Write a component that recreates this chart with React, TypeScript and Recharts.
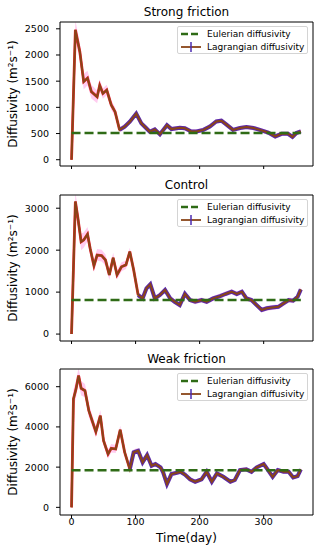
import React from "react"
import { Area, ComposedChart, Line, XAxis, YAxis } from "recharts"

// Strong friction
const sfDays = [0, 6, 13, 19, 25, 31, 40, 44, 49, 55, 62, 68, 75, 83, 91, 101, 109, 116, 122, 130, 138, 143, 149, 156, 169, 177, 187, 195, 206, 216, 226, 234, 242, 252, 263, 273, 284, 294, 307, 318, 328, 338, 345, 351, 358]
const sfVals = [0, 2480, 2060, 1490, 1560, 1300, 1200, 1420, 1265, 1330, 1045, 915, 570, 630, 725, 880, 695, 610, 535, 580, 485, 565, 660, 585, 610, 600, 540, 540, 570, 635, 730, 745, 670, 570, 605, 625, 605, 570, 520, 445, 495, 495, 435, 510, 540]
const sfErrs = [0, 180, 170, 150, 140, 130, 120, 110, 100, 100, 90, 80, 50, 50, 50, 50, 45, 40, 40, 40, 40, 40, 40, 40, 40, 40, 40, 40, 40, 40, 40, 40, 40, 40, 40, 40, 40, 40, 40, 40, 40, 40, 40, 40, 40]
const sfEulerian = 510

// Control
const ctDays = [0, 6, 10, 15, 19, 25, 29, 35, 40, 47, 53, 59, 65, 71, 78, 85, 91, 97, 104, 111, 117, 123, 130, 138, 146, 154, 161, 169, 177, 185, 193, 203, 211, 221, 232, 240, 250, 258, 266, 273, 281, 289, 297, 305, 313, 323, 331, 339, 346, 353, 358]
const ctVals = [0, 3160, 2760, 2200, 2240, 2380, 2045, 1630, 1885, 1870, 1765, 1410, 1820, 1410, 1605, 1650, 1965, 1530, 930, 850, 1090, 1185, 850, 930, 1050, 850, 770, 690, 960, 810, 770, 810, 770, 850, 905, 955, 1010, 955, 1010, 850, 810, 690, 575, 615, 635, 650, 730, 810, 795, 890, 1065]
const ctErrs = [0, 220, 210, 200, 180, 170, 160, 150, 140, 140, 130, 120, 120, 110, 110, 100, 90, 80, 70, 60, 60, 60, 60, 60, 60, 60, 60, 60, 60, 60, 60, 60, 60, 60, 60, 60, 60, 60, 60, 60, 60, 60, 60, 60, 60, 60, 60, 60, 60, 60, 60]
const ctEulerian = 815

// Weak friction
const wkDays = [0, 3, 7, 11, 15, 21, 27, 33, 38, 45, 50, 57, 62, 69, 76, 83, 91, 97, 104, 111, 118, 125, 131, 139, 143, 149, 156, 163, 170, 177, 185, 193, 203, 211, 219, 227, 237, 248, 255, 263, 273, 281, 289, 300, 306, 314, 322, 331, 339, 346, 353, 358]
const wkVals = [0, 5390, 5890, 6550, 5920, 5800, 4810, 4230, 3760, 4560, 3310, 2650, 2935, 2900, 3860, 2735, 1905, 2735, 2815, 2240, 2600, 2070, 2155, 1990, 1740, 1160, 1655, 1705, 1770, 1630, 1395, 1275, 1395, 1770, 1275, 1690, 1520, 1275, 1360, 1855, 1890, 1770, 1990, 2155, 1890, 1520, 1855, 1770, 1770, 1490, 1555, 1890]
const wkErrs = [0, 450, 420, 380, 360, 330, 310, 290, 270, 270, 250, 230, 210, 200, 200, 180, 160, 150, 140, 130, 120, 110, 100, 100, 100, 100, 100, 100, 100, 100, 100, 100, 100, 100, 100, 100, 100, 100, 100, 100, 100, 100, 100, 100, 100, 100, 100, 100, 100, 100, 100, 100]
const wkEulerian = 1840

const xTicks = [0, 100, 200, 300]
const sfTicks = [0, 500, 1000, 1500, 2000, 2500]
const ctTicks = [0, 1000, 2000, 3000]
const wkTicks = [0, 2000, 4000, 6000]

const FONT = "DejaVu Sans"
const BROWN = "#8a4418"
const GREEN = "#2f6b16"

const panels = [
  { title: "Strong friction", days: sfDays, vals: sfVals, errs: sfErrs, eul: sfEulerian, yDomain: [-120, 2630], yTicks: sfTicks, fringeFrom: 75, top: 0, height: 175, margin: { top: 21, right: 6, bottom: 8, left: 0 }, last: false },
  { title: "Control", days: ctDays, vals: ctVals, errs: ctErrs, eul: ctEulerian, yDomain: [-165, 3315], yTicks: ctTicks, fringeFrom: 104, top: 175, height: 175, margin: { top: 19, right: 6, bottom: 8, left: 0 }, last: false },
  { title: "Weak friction", days: wkDays, vals: wkVals, errs: wkErrs, eul: wkEulerian, yDomain: [-380, 6880], yTicks: wkTicks, fringeFrom: 91, top: 350, height: 200, margin: { top: 18, right: 6, bottom: 5, left: 0 }, last: true },
]

function YLabel({ viewBox }: any) {
  const cy = viewBox.y + viewBox.height / 2
  return (
    <text x={13} y={cy} transform={`rotate(-90, 13, ${cy})`} textAnchor="middle" dominantBaseline="central" fontSize={12} fontFamily={FONT} fill="#000">
      Diffusivity (m²s⁻¹)
    </text>
  )
}

function LegendBox({ top }: { top: number }) {
  return (
    <div style={{ position: "absolute", left: 177, top, width: 131, height: 28, border: "1px solid #d4d4d4", borderRadius: 2, background: "rgba(255,255,255,0.85)", boxSizing: "border-box", fontFamily: FONT, fontSize: 9 }}>
      <svg width={22} height={28} style={{ position: "absolute", left: 2, top: 0 }}>
        <line x1={1} y1={7} x2={21} y2={7} stroke={GREEN} strokeWidth={2.5} strokeDasharray="7 3" />
        <line x1={1} y1={20} x2={21} y2={20} stroke={BROWN} strokeWidth={1.8} />
        <line x1={11} y1={15} x2={11} y2={25} stroke="#4b2bb0" strokeWidth={1.5} />
      </svg>
      <div style={{ position: "absolute", left: 29, top: 1, lineHeight: "12px", whiteSpace: "nowrap" }}>Eulerian diffusivity</div>
      <div style={{ position: "absolute", left: 29, top: 14, lineHeight: "12px", whiteSpace: "nowrap" }}>Lagrangian diffusivity</div>
    </div>
  )
}

function Panel({ p }: { p: (typeof panels)[number] }) {
  const data = p.days.map((d, i) => ({
    day: d,
    val: p.vals[i],
    band: [p.vals[i] - p.errs[i], p.vals[i] + p.errs[i]],
    red: d <= p.fringeFrom ? p.vals[i] : null,
    purple: d >= p.fringeFrom ? p.vals[i] : null,
    eul: p.eul,
  }))
  const tickStyle = { fontSize: 9.5, fill: "#000", fontFamily: FONT }
  return (
    <div style={{ position: "absolute", left: 0, top: p.top, width: 320, height: p.height }}>
      <ComposedChart width={320} height={p.height} data={data} margin={p.margin}>
        <XAxis dataKey="day" type="number" domain={[-18, 377]} ticks={xTicks} allowDataOverflow
          height={p.last ? 30 : 1} tickSize={3} tickMargin={0} stroke="#000" tickLine={{ stroke: "#000" }}
          tick={tickStyle} tickFormatter={p.last ? undefined : () => ""} />
        <XAxis xAxisId="top" orientation="top" type="number" domain={[-18, 377]} height={1} tick={false} tickLine={false} stroke="#000" />
        <YAxis type="number" domain={p.yDomain} ticks={p.yTicks} allowDataOverflow width={60} tickSize={4} tickMargin={7}
          stroke="#000" tickLine={{ stroke: "#000" }} tick={tickStyle} label={{ content: YLabel }} />
        <YAxis yAxisId="right" orientation="right" type="number" domain={p.yDomain} width={1} tick={false} tickLine={false} stroke="#000" />
        <Area dataKey="band" stroke="none" fill="#ffbfec" fillOpacity={0.8} isAnimationActive={false} />
        <Line dataKey="red" stroke="#e3262a" strokeWidth={2.8} dot={false} connectNulls={false} isAnimationActive={false} />
        <Line dataKey="purple" stroke="#5a2aa8" strokeWidth={4} dot={false} connectNulls={false} isAnimationActive={false} />
        <Line dataKey="val" stroke={BROWN} strokeWidth={2} dot={false} isAnimationActive={false} />
        <Line dataKey="eul" stroke={GREEN} strokeWidth={2.5} strokeDasharray="9 4" dot={false} isAnimationActive={false} />
      </ComposedChart>
      <div style={{ position: "absolute", left: 60, width: 253, top: p.margin.top - 16, lineHeight: "14px", textAlign: "center", fontFamily: FONT, fontSize: 12 }}>
        {p.title}
      </div>
      <LegendBox top={p.margin.top + 5} />
      {p.last && (
        <div style={{ position: "absolute", left: 60, width: 253, top: p.height - 20, lineHeight: "16px", textAlign: "center", fontFamily: FONT, fontSize: 12 }}>
          Time(day)
        </div>
      )}
    </div>
  )
}

export default function App() {
  return (
    <div style={{ position: "absolute", left: 0, top: 0, width: 320, height: 550, background: "#fff" }}>
      {panels.map((p) => (
        <Panel key={p.title} p={p} />
      ))}
    </div>
  )
}
